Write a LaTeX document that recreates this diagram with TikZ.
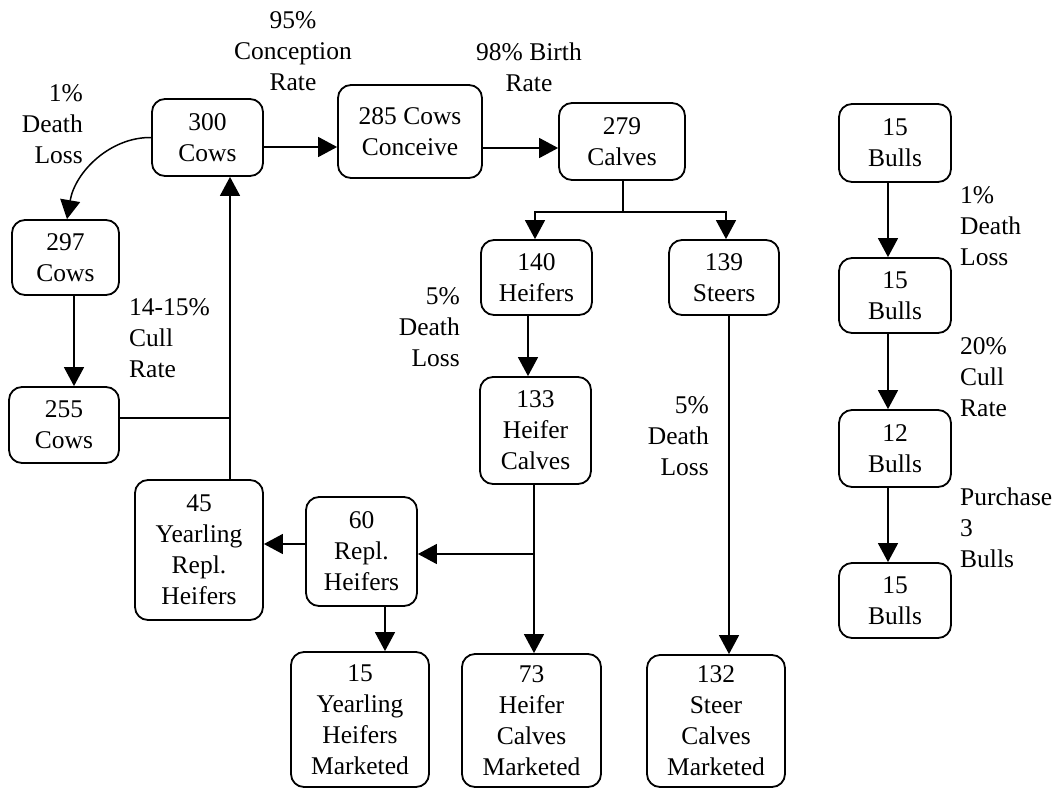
\documentclass[tikz,border=0pt]{standalone}
\usepackage{fontspec}
\setmainfont{Liberation Serif}
\usetikzlibrary{arrows.meta}
\usetikzlibrary{calc}

\begin{document}
\begin{tikzpicture}[x=1pt, y=-1pt,
  every node/.style={font=\fontsize{25.5}{31}\selectfont},
  herdbox/.style={draw, rounded corners=13pt, line width=1.8pt, align=center, inner sep=0pt},
  rate/.style={inner sep=0pt},
  flow/.style={line width=1.5pt, -{Triangle[length=19pt,width=20pt]}},
  feed/.style={line width=1.5pt}]
  \useasboundingbox (0,0) rectangle (1064,792);

  % Cow herd
  \node[herdbox, minimum width=111pt, minimum height=77pt] (cows300) at (207.5,137.5) {300\\Cows};
  \node[herdbox, minimum width=144pt, minimum height=93pt] (conceive285) at (410,131.5) {285 Cows\\Conceive};
  \node[herdbox, minimum width=126pt, minimum height=77pt] (calves279) at (622,141.5) {279\\Calves};
  \node[herdbox, minimum width=107pt, minimum height=75pt] (cows297) at (65.5,257.5) {297\\Cows};
  \node[herdbox, minimum width=110pt, minimum height=76pt] (cows255) at (64,425) {255\\Cows};

  % Calves and replacements
  \node[herdbox, minimum width=111pt, minimum height=75pt] (heifers140) at (536.5,277.5) {140\\Heifers};
  \node[herdbox, minimum width=110pt, minimum height=75pt] (steers139) at (724,277.5) {139\\Steers};
  \node[herdbox, minimum width=111pt, minimum height=107pt] (heifcalves133) at (535.5,430.5) {133\\Heifer\\Calves};
  \node[herdbox, minimum width=128pt, minimum height=140pt] (yearl45) at (199,550) {45\\Yearling\\Repl.\\Heifers};
  \node[herdbox, minimum width=111pt, minimum height=109pt] (repl60) at (361.5,551.5) {60\\Repl.\\Heifers};
  \node[herdbox, minimum width=138pt, minimum height=135pt] (ymkt15) at (360,719.5) {15\\Yearling\\Heifers\\Marketed};
  \node[herdbox, minimum width=139pt, minimum height=133pt] (hmkt73) at (531.5,720.5) {73\\Heifer\\Calves\\Marketed};
  \node[herdbox, minimum width=138pt, minimum height=132pt] (smkt132) at (716,721) {132\\Steer\\Calves\\Marketed};

  % Bulls
  \def\bullx{895}
  \foreach \b/\y/\h/\num in {A/143/78/15, B/295.5/75/15, C/448.5/77/12, D/600.5/75/15}
    \node[herdbox, minimum width=112pt, minimum height=\h pt] (bulls\b) at (\bullx,\y) {\num\\Bulls};

  % Rates
  \node[rate, align=right, anchor=east] (lossCows) at (83,124) {1\%\\Death\\Loss};
  \node[rate, align=center] (concRate) at (293,51) {95\%\\Conception\\Rate};
  \node[rate, align=center] (birthRate) at (529,67) {98\% Birth\\Rate};
  \node[rate, align=left, anchor=west] (cullCows) at (129,338) {14-15\%\\Cull\\Rate};
  \node[rate, align=right, anchor=east] (lossHeif) at (460,327) {5\%\\Death\\Loss};
  \node[rate, align=right, anchor=east] (lossSteer) at (709,436) {5\%\\Death\\Loss};
  \node[rate, align=left, anchor=west] (lossBulls) at (960,226) {1\%\\Death\\Loss};
  \node[rate, align=left, anchor=west] (cullBulls) at (960,377) {20\%\\Cull\\Rate};
  \node[rate, align=left, anchor=west] (buyBulls) at (960,528) {Purchase\\3\\Bulls};

  % Cow flow
  \draw[flow] (cows300.east |- 0,147) -- (conceive285.west |- 0,147);
  \draw[flow] (conceive285.east |- 0,148) -- (calves279.west |- 0,148);
  \draw[flow] (cows300.west) .. controls (110,137) and (75,172) .. (cows297.north -| 67,0);
  \draw[flow] (cows297.south -| 74,0) -- (cows255.north -| 74,0);
  \coordinate (cullJoin) at (230,418);
  \draw[feed] (cows255.east |- cullJoin) -- (cullJoin);
  \draw[flow] (yearl45.north -| cullJoin) -- (cows300.south -| cullJoin);

  % Calf split
  \coordinate (calvesSplit) at (623,212);
  \draw[feed] (calves279.south -| calvesSplit) -- (calvesSplit);
  \draw[flow] (calvesSplit) -| (heifers140.north -| 535,0);
  \draw[flow] (calvesSplit) -| (steers139.north -| 726,0);
  \draw[flow] (heifers140.south -| 528,0) -- (heifcalves133.north -| 528,0);
  \draw[flow] (heifcalves133.south -| 534,0) -- (hmkt73.north -| 534,0);
  \coordinate (heifSplit) at (534,554);
  \draw[flow] (heifSplit) -- (repl60.east |- heifSplit);
  \draw[flow] (repl60.west |- 0,544) -- (yearl45.east |- 0,544);
  \draw[flow] (repl60.south -| 385,0) -- (ymkt15.north -| 385,0);
  \draw[flow] (steers139.south -| 729,0) -- (smkt132.north -| 729,0);

  % Bull flow
  \foreach \from/\to in {A/B, B/C, C/D}
    \draw[flow] (bulls\from.south -| 888,0) -- (bulls\to.north -| 888,0);
\end{tikzpicture}
\end{document}
